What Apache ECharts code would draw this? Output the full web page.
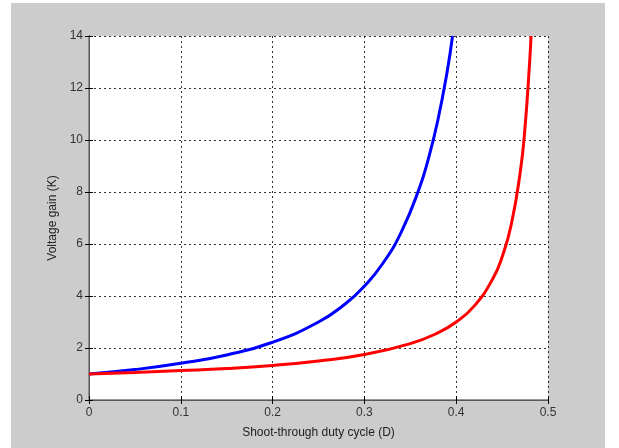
<!DOCTYPE html>
<html>
<head>
<meta charset="utf-8">
<script src="https://cdn.jsdelivr.net/npm/echarts@6/dist/echarts.min.js"></script>
<style>
html,body{margin:0;padding:0;background:#ffffff;}
#c{position:absolute;left:11px;top:3px;width:594px;height:445px;}
</style>
</head>
<body>
<div id="c"></div>
<script>
var xTicks = [0, 0.1, 0.2, 0.3, 0.4, 0.5];
var yTicks = [0, 2, 4, 6, 8, 10, 12, 14];
var blueD = [0, 0.05, 0.1, 0.15, 0.2, 0.25, 0.28, 0.3, 0.32, 0.34, 0.36, 0.37, 0.38, 0.39, 0.396];
var blueK = [1.00, 1.17, 1.41, 1.73, 2.22, 3.00, 3.72, 4.38, 5.25, 6.45, 8.16, 9.32, 10.76, 12.6, 14.0];
var redD = [0, 0.05, 0.1, 0.15, 0.2, 0.25, 0.3, 0.35, 0.38, 0.4, 0.42, 0.44, 0.45, 0.46, 0.47, 0.475, 0.48, 0.4815];
var redK = [1.00, 1.06, 1.13, 1.21, 1.33, 1.50, 1.75, 2.17, 2.58, 3.00, 3.63, 4.67, 5.50, 6.75, 8.83, 10.5, 13.0, 14.0];

function pairs(xs, ys){ return xs.map(function(x,i){ return [x, ys[i]]; }); }

var chart = echarts.init(document.getElementById('c'), null, {renderer:'canvas'});
var font = 'Arial, "Liberation Sans", Helvetica, sans-serif';
var gridLine = {show:true, lineStyle:{color:'#000', type:[2,3], width:1, opacity:0.8}};
chart.setOption({
  backgroundColor:'#cccccc',
  animation:false,
  grid:{left:78, top:33, width:459, height:364, show:true, backgroundColor:'#ffffff', borderWidth:0},
  xAxis:[{
    type:'value', min:0, max:0.5, interval:0.1,
    name:'Shoot-through duty cycle (D)', nameLocation:'middle', nameGap:27,
    nameTextStyle:{color:'#222', fontSize:12, fontFamily:font},
    axisLine:{show:true, lineStyle:{color:'#000', width:1}},
    axisTick:{show:true, inside:true, length:4, lineStyle:{color:'#000'}},
    axisLabel:{color:'#333', fontSize:12, fontFamily:font, margin:7,
      formatter:function(v){ return v===0 ? '0' : String(+v.toFixed(1)); }},
    splitLine:gridLine
  },{
    type:'value', min:0, max:0.5, interval:0.1, position:'top',
    axisLine:{show:true, lineStyle:{color:'#777', width:1.5}},
    axisTick:{show:true, inside:true, length:4, lineStyle:{color:'#000'}},
    axisLabel:{show:false}, splitLine:{show:false}
  }],
  yAxis:[{
    type:'value', min:0, max:14, interval:2,
    name:'Voltage gain (K)', nameLocation:'middle', nameGap:22, nameRotate:90,
    nameTextStyle:{color:'#222', fontSize:12, fontFamily:font},
    axisLine:{show:true, lineStyle:{color:'#000', width:1}},
    axisTick:{show:true, inside:true, length:4, lineStyle:{color:'#000'}},
    axisLabel:{color:'#333', fontSize:12, fontFamily:font, margin:6},
    splitLine:gridLine
  },{
    type:'value', min:0, max:14, interval:2, position:'right',
    axisLine:{show:true, lineStyle:{color:'#777', width:1.5}},
    axisTick:{show:true, inside:true, length:4, lineStyle:{color:'#000'}},
    axisLabel:{show:false}, splitLine:{show:false}
  }],
  series:[
    {type:'line', data:pairs(blueD, blueK), smooth:true, showSymbol:false, clip:true,
     lineStyle:{color:'#0000ff', width:3}},
    {type:'line', data:pairs(redD, redK), smooth:true, showSymbol:false, clip:true,
     lineStyle:{color:'#ff0000', width:3}}
  ]
});
</script>
</body>
</html>
